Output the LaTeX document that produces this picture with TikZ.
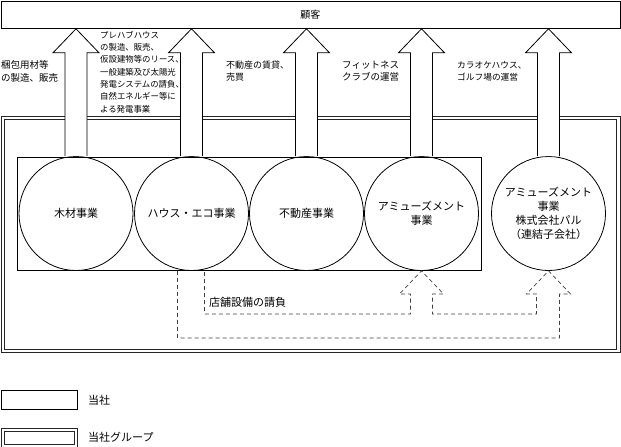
\documentclass[tikz,border=0pt]{standalone}
\usepackage{fontspec}
\setmainfont{Noto Sans CJK JP}
\usetikzlibrary{calc}
\newcommand\upArrow[1]{%
  \draw[bigarrow] ($(#1.north)+(-11,0)$) -- ($(#1.north |- cust.south)+(-11,24)$) -- ++(-12,0)
    -- (#1.north |- cust.south) -- ++(23,24) -- ++(-12,0) -- ($(#1.north)+(11,0)$);}
\begin{document}
\begin{tikzpicture}[x=1pt,y=-1pt,
  box/.style={draw, line width=0.8pt, inner sep=0},
  biz/.style={circle, draw, line width=0.8pt, minimum size=114pt, inner sep=0, align=center, font=\fontsize{11}{14}\selectfont},
  bigarrow/.style={draw, fill=white, line width=0.8pt, line join=miter},
  dasharrow/.style={draw=black!75, line width=0.7pt, dash pattern=on 4pt off 3pt},
  lbl/.style={inner sep=0, align=left, font=\fontsize{9}{12}\selectfont},
  grpline/.style={draw=black!85, line width=0.9pt}]
\useasboundingbox (0,0) rectangle (621,447);
% customer box
\node[box, minimum width=619pt, minimum height=27.5pt, anchor=north west, font=\fontsize{10}{12}\selectfont] (cust) at (0.5,0.5) {顧客};
% group frame (double line)
\node[grpline, inner sep=0, minimum width=618.5pt, minimum height=236pt, anchor=north west] (grp) at (1,116) {};
\draw[grpline] ($(grp.north west)+(3.5,3.5)$) rectangle ($(grp.south east)+(-3.5,-3.5)$);
% company box
\node[box, line width=1.1pt, minimum width=464pt, minimum height=113pt, anchor=north west] (co) at (17,157) {};
% business circles
\node[biz] (c1) at (76,213.5) {木材事業};
\node[biz] (c2) at (191.5,213.5) {ハウス・エコ事業};
\node[biz] (c3) at (306.5,213.5) {不動産事業};
\node[biz] (c4) at (421.5,213.5) {アミューズメント\\事業};
\node[biz] (c5) at (548.5,213.5) {アミューズメント\\事業\\株式会社パル\\（連結子会社）};
% big arrows
\upArrow{c1}
\upArrow{c2}
\upArrow{c3}
\upArrow{c4}
\upArrow{c5}
% arrow labels
\node[lbl, anchor=west, font=\fontsize{9.5}{13}\selectfont] (t1) at (1,71.5) {梱包用材等\\の製造、販売};
\node[lbl, anchor=west, font=\fontsize{8.4}{12.3}\selectfont] (t2) at (100,72) {プレハブハウス\\の製造、販売、\\仮設建物等のリース、\\一般建築及び太陽光\\発電システムの請負、\\自然エネルギー等に\\よる発電事業};
\node[lbl, anchor=west] (t3) at (226,71.5) {不動産の賃貸、\\売買};
\node[lbl, anchor=west, font=\fontsize{9.5}{12}\selectfont] (t4) at (342,71.5) {フィットネス\\クラブの運営};
\node[lbl, anchor=west, font=\fontsize{8.7}{12}\selectfont] (t5) at (457,71.5) {カラオケハウス、\\ゴルフ場の運営};
% dashed arrows
\draw[dasharrow] ($(c2.south)+(-14,0)$) -- ++(0,67) -| ($(c5.south)+(11,23)$) -- ++(11,0) -- (c5.south)
  -- ++(-22,23) -- ++(10,0) |- ($(c4.south)+(11,43)$) -- ++(0,-20) -- ++(11,0) -- (c4.south)
  -- ++(-22,23) -- ++(11,0) |- ($(c2.south)+(13,43)$) -- ($(c2.south)+(13,0)$);
\node[lbl, anchor=west, font=\fontsize{11}{13}\selectfont] (tk) at (209,302) {店舗設備の請負};
% legend
\node[box, line width=1.1pt, minimum width=76pt, minimum height=19pt, anchor=north west] (lg1) at (0.6,390) {};
\node[lbl, anchor=west, font=\fontsize{11}{13}\selectfont] (lg1t) at (88,400) {当社};
\node[grpline, inner sep=0, minimum width=76.5pt, minimum height=18.5pt, anchor=north west] (lg2) at (0.5,428) {};
\draw[grpline] ($(lg2.north west)+(3.5,3)$) rectangle ($(lg2.south east)+(-3.5,-3)$);
\node[lbl, anchor=west, font=\fontsize{11}{13}\selectfont] (lg2t) at (88,437) {当社グループ};
\end{tikzpicture}
\end{document}
